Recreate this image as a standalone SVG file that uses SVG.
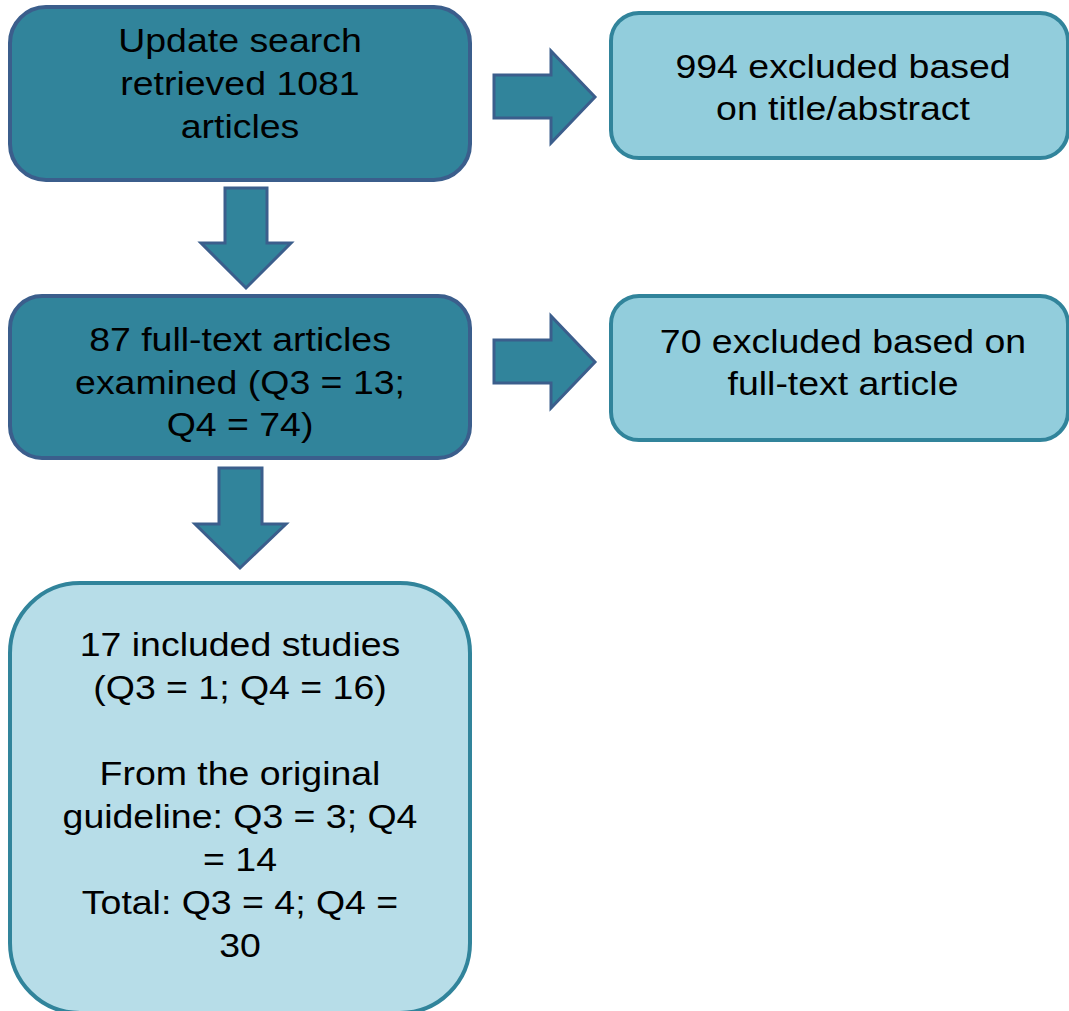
<svg xmlns="http://www.w3.org/2000/svg" width="1069" height="1011" viewBox="0 0 1069 1011">
<style>
.dark{fill:#31849B;stroke:#3B5E8C;stroke-width:4}
.light{fill:#92CDDC;stroke:#31849B;stroke-width:4}
.pale{fill:#B7DDE8;stroke:#31849B;stroke-width:4}
.arr{fill:#31849B;stroke:#3B5E8C;stroke-width:3}
text{font-family:"Liberation Sans",Arial,sans-serif;font-size:33px;fill:#000;text-anchor:middle}
</style>
<rect width="1069" height="1011" fill="#fff"/>
<g id="connectors">
<path class="arr" d="M225,188 H267 V243 H291 L246,288 L201,243 H225 Z"/>
<path class="arr" d="M494,75 H551 V51 L595,97 L551,143 V118 H494 Z"/>
<path class="arr" d="M494,340 H551 V316 L595,362 L551,408 V383 H494 Z"/>
<path class="arr" d="M219,468 H262 V524 H286 L240,568 L195,524 H219 Z"/>
</g>
<g id="n1">
<rect class="dark" x="10" y="7" width="460" height="173" rx="36"/>
<g transform="translate(240 0) scale(1.135 1)">
<text x="0" y="52">Update search</text>
<text x="0" y="95">retrieved 1081</text>
<text x="0" y="138">articles</text>
</g>
</g>
<g id="n2">
<rect class="light" x="611" y="13" width="457" height="145" rx="28"/>
<g transform="translate(843 0) scale(1.135 1)">
<text x="0" y="78">994 excluded based</text>
<text x="0" y="120">on title/abstract</text>
</g>
</g>
<g id="n3">
<rect class="dark" x="10" y="296" width="460" height="162" rx="32"/>
<g transform="translate(240 0) scale(1.135 1)">
<text x="0" y="351">87 full-text articles</text>
<text x="0" y="394">examined (Q3 = 13;</text>
<text x="0" y="436">Q4 = 74)</text>
</g>
</g>
<g id="n4">
<rect class="light" x="611" y="296" width="457" height="144" rx="28"/>
<g transform="translate(843 0) scale(1.135 1)">
<text x="0" y="353">70 excluded based on</text>
<text x="0" y="395">full-text article</text>
</g>
</g>
<g id="n5">
<rect class="pale" x="10" y="583" width="460" height="430" rx="70"/>
<g transform="translate(240 0) scale(1.135 1)">
<text x="0" y="656">17 included studies</text>
<text x="0" y="699">(Q3 = 1; Q4 = 16)</text>
<text x="0" y="785">From the original</text>
<text x="0" y="828">guideline: Q3 = 3; Q4</text>
<text x="0" y="871">= 14</text>
<text x="0" y="914">Total: Q3 = 4; Q4 =</text>
<text x="0" y="957">30</text>
</g>
</g>
</svg>
